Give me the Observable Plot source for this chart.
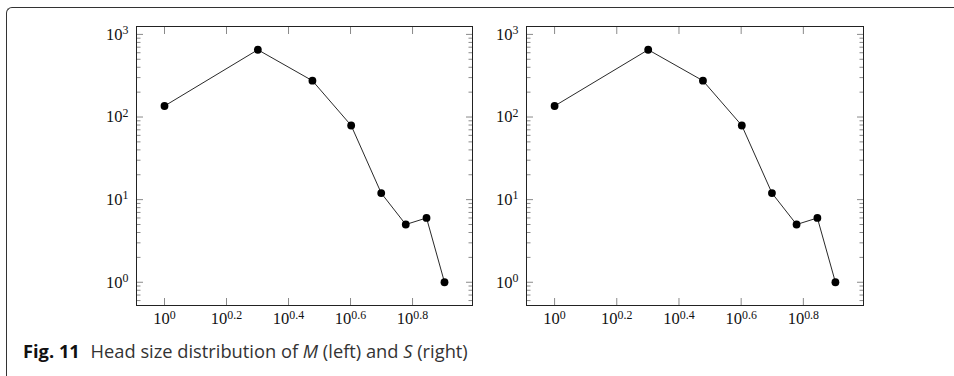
<!DOCTYPE html>
<html>
<head>
<meta charset="utf-8">
<script src="https://cdn.jsdelivr.net/npm/d3@7"></script>
<script src="https://cdn.jsdelivr.net/npm/@observablehq/plot@0.6"></script>
<style>
  html, body { margin: 0; padding: 0; background: #fff; }
  #wrap { position: relative; width: 954px; height: 376px; overflow: hidden; }
  #border { position: absolute; left: 6px; top: 7px; width: 1000px; height: 400px;
    border-top: 1.5px solid #333; border-left: 1.5px solid #333; border-top-left-radius: 6px; box-sizing: border-box; }
  #p1 { position: absolute; left: 0; top: 0; }
  #p2 { position: absolute; left: 480px; top: 0; }
  #caption { position: absolute; left: 23px; top: 338px; font-family: "Open Sans", sans-serif; font-size: 18.3px; color: #333; white-space: nowrap; }
  #caption b { color: #111; font-weight: 700; margin-right: 6px; }
</style>
</head>
<body>
<div id="wrap">
  <div id="border"></div>
  <div id="p1"></div>
  <div id="p2"></div>
  <div id="caption"><b>Fig. 11</b> Head size distribution of <i>M</i> (left) and <i>S</i> (right)</div>
</div>
<script>
// head sizes (x) and their frequencies
const headSizes = [1, 2, 3, 4, 5, 6, 7, 8];
const countsM = [136, 652, 275, 79, 12, 5, 6, 1];
const countsS = [136, 652, 275, 79, 12, 5, 6, 1];
const xTickExponents = [0, 0.2, 0.4, 0.6, 0.8];
const yTickExponents = [0, 1, 2, 3];

function panel(counts, width, marginLeft, marginRight) {
  const data = headSizes.map((x, i) => ({x, y: counts[i]}));
  const lx = d3.extent(headSizes, Math.log10);
  const ly = d3.extent(counts, Math.log10);
  const ex = 0.1 * (lx[1] - lx[0]), ey = 0.1 * (ly[1] - ly[0]);
  const xDomain = [10 ** (lx[0] - ex), 10 ** (lx[1] + ex)];
  const yDomain = [10 ** (ly[0] - ey), 10 ** (ly[1] + ey)];
  const xTicks = xTickExponents.map(e => 10 ** e);
  const yTicks = yTickExponents.map(e => 10 ** e);
  const yMinor = [];
  for (let d = -1; d <= 3; d++) for (let m = 2; m <= 9; m++) {
    const v = m * 10 ** d;
    if (v > yDomain[0] && v < yDomain[1]) yMinor.push(v);
  }
  const xFmt = d => "10^" + (+Math.log10(d).toFixed(1));
  const yFmt = d => "10^" + Math.round(Math.log10(d));
  const tickColor = "#8a8a8a";
  const fs = 16.5;
  const svg = Plot.plot({
    width, height: 340,
    marginTop: 26, marginBottom: 35, marginLeft, marginRight,
    style: {fontFamily: "'Liberation Serif', serif", fontSize: fs + "px", color: "#111", background: "transparent"},
    x: {type: "log", domain: xDomain},
    y: {type: "log", domain: yDomain},
    marks: [
      // inward major ticks
      Plot.axisX({ticks: xTicks, anchor: "bottom", tickSize: 7, dy: -7, tickFormat: () => "", stroke: tickColor, label: null}),
      Plot.axisX({ticks: xTicks, anchor: "top", tickSize: 7, dy: 7, tickFormat: () => "", stroke: tickColor, label: null}),
      Plot.axisY({ticks: yTicks, anchor: "left", tickSize: 7, dx: 7, tickFormat: () => "", stroke: tickColor, label: null}),
      Plot.axisY({ticks: yTicks, anchor: "right", tickSize: 7, dx: -7, tickFormat: () => "", stroke: tickColor, label: null}),
      // inward minor ticks
      Plot.axisY({ticks: yMinor, anchor: "left", tickSize: 4.5, dx: 4.5, tickFormat: () => "", stroke: tickColor, label: null}),
      Plot.axisY({ticks: yMinor, anchor: "right", tickSize: 4.5, dx: -4.5, tickFormat: () => "", stroke: tickColor, label: null}),
      // tick labels
      Plot.axisX({ticks: xTicks, anchor: "bottom", tickSize: 0, tickPadding: 7, tickFormat: xFmt, label: null, fontSize: fs}),
      Plot.axisY({ticks: yTicks, anchor: "left", tickSize: 0, tickPadding: 8, tickFormat: yFmt, label: null, fontSize: fs}),
      Plot.frame({stroke: "#222", strokeWidth: 1}),
      Plot.line(data, {x: "x", y: "y", stroke: "#111", strokeWidth: 0.9}),
      Plot.dot(data, {x: "x", y: "y", r: 3.9, fill: "#000", stroke: "none"})
    ]
  });
  // render exponents as superscripts
  d3.select(svg).selectAll("text").each(function() {
    const t = this.textContent;
    if (!t.startsWith("10^")) return;
    const exp = t.slice(3);
    const sel = d3.select(this);
    sel.text(null);
    sel.append("tspan").text("10");
    sel.append("tspan").attr("dy", "-0.48em").attr("font-size", "0.72em").text(exp);
  });
  return svg;
}

document.getElementById("p1").append(panel(countsM, 480, 136, 8));
document.getElementById("p2").append(panel(countsS, 400, 46, 17));
</script>
</body>
</html>
